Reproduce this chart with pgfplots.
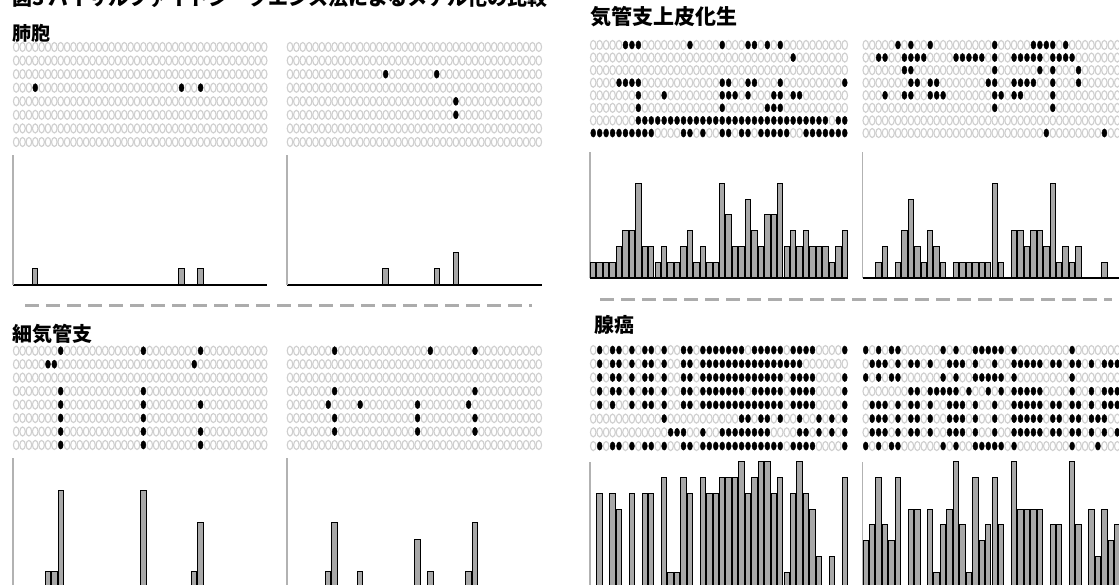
\documentclass[border=0pt]{standalone}
\usepackage{pgfplots}
\pgfplotsset{compat=1.18}
\usepackage{pgfplotstable}
\usepackage{fontspec}
\setmainfont{Noto Sans CJK JP}
\newfontfamily\jp{Noto Sans CJK JP}

\pgfplotsset{
  matstyle/.style={scatter, only marks, scatter src=explicit symbolic,
    scatter/classes={0={mark=o,draw=gray!38,line width=1.15pt,mark size=2.75pt},
                     1={mark=*,draw=black,fill=black,mark size=2.5pt}},
    mark options={yscale=1.65}},
  mataxis/.style={anchor=south west, scale only axis, hide axis,
    xmin=0.5, xmax=40.5, ymin=0.5, ymax=8.5, y dir=reverse, clip=false},
  baraxis/.style={anchor=south west, scale only axis,
    xmin=0.5, xmax=40.5, ymin=0, ymax=8,
    axis x line*=bottom, axis y line*=left, xtick=\empty, ytick=\empty,
    axis line style={-},
    x axis line style={black, line width=1.6pt, -},
    y axis line style={gray!60, line width=1.4pt, -}},
  barplot/.style={ybar, bar width=5.4pt, fill=gray!68, draw=black, line width=1pt}
}
\newcommand\drawmat[1]{%
  \pgfplotsinvokeforeach{0,...,39}{%
    \addplot[matstyle] table[x expr=##1+1, y expr=\coordindex+1, meta index=##1]{#1};
  }%
}

% ---------- methylation matrices (rows = clones, columns = CpG sites) ----------
\pgfplotstableread[header=false]{
0 0 0 0 0 0 0 0 0 0  0 0 0 0 0 0 0 0 0 0  0 0 0 0 0 0 0 0 0 0  0 0 0 0 0 0 0 0 0 0
0 0 0 0 0 0 0 0 0 0  0 0 0 0 0 0 0 0 0 0  0 0 0 0 0 0 0 0 0 0  0 0 0 0 0 0 0 0 0 0
0 0 0 0 0 0 0 0 0 0  0 0 0 0 0 0 0 0 0 0  0 0 0 0 0 0 0 0 0 0  0 0 0 0 0 0 0 0 0 0
0 0 0 1 0 0 0 0 0 0  0 0 0 0 0 0 0 0 0 0  0 0 0 0 0 0 1 0 0 1  0 0 0 0 0 0 0 0 0 0
0 0 0 0 0 0 0 0 0 0  0 0 0 0 0 0 0 0 0 0  0 0 0 0 0 0 0 0 0 0  0 0 0 0 0 0 0 0 0 0
0 0 0 0 0 0 0 0 0 0  0 0 0 0 0 0 0 0 0 0  0 0 0 0 0 0 0 0 0 0  0 0 0 0 0 0 0 0 0 0
0 0 0 0 0 0 0 0 0 0  0 0 0 0 0 0 0 0 0 0  0 0 0 0 0 0 0 0 0 0  0 0 0 0 0 0 0 0 0 0
0 0 0 0 0 0 0 0 0 0  0 0 0 0 0 0 0 0 0 0  0 0 0 0 0 0 0 0 0 0  0 0 0 0 0 0 0 0 0 0
}\matAL
\pgfplotstableread[header=false]{
0 0 0 0 0 0 0 0 0 0  0 0 0 0 0 0 0 0 0 0  0 0 0 0 0 0 0 0 0 0  0 0 0 0 0 0 0 0 0 0
0 0 0 0 0 0 0 0 0 0  0 0 0 0 0 0 0 0 0 0  0 0 0 0 0 0 0 0 0 0  0 0 0 0 0 0 0 0 0 0
0 0 0 0 0 0 0 0 0 0  0 0 0 0 0 1 0 0 0 0  0 0 0 1 0 0 0 0 0 0  0 0 0 0 0 0 0 0 0 0
0 0 0 0 0 0 0 0 0 0  0 0 0 0 0 0 0 0 0 0  0 0 0 0 0 0 0 0 0 0  0 0 0 0 0 0 0 0 0 0
0 0 0 0 0 0 0 0 0 0  0 0 0 0 0 0 0 0 0 0  0 0 0 0 0 0 1 0 0 0  0 0 0 0 0 0 0 0 0 0
0 0 0 0 0 0 0 0 0 0  0 0 0 0 0 0 0 0 0 0  0 0 0 0 0 0 1 0 0 0  0 0 0 0 0 0 0 0 0 0
0 0 0 0 0 0 0 0 0 0  0 0 0 0 0 0 0 0 0 0  0 0 0 0 0 0 0 0 0 0  0 0 0 0 0 0 0 0 0 0
0 0 0 0 0 0 0 0 0 0  0 0 0 0 0 0 0 0 0 0  0 0 0 0 0 0 0 0 0 0  0 0 0 0 0 0 0 0 0 0
}\matAR
\pgfplotstableread[header=false]{
0 0 0 0 0 0 0 1 0 0  0 0 0 0 0 0 0 0 0 0  1 0 0 0 0 0 0 0 0 1  0 0 0 0 0 0 0 0 0 0
0 0 0 0 0 1 1 0 0 0  0 0 0 0 0 0 0 0 0 0  0 0 0 0 0 0 0 0 1 0  0 0 0 0 0 0 0 0 0 0
0 0 0 0 0 0 0 0 0 0  0 0 0 0 0 0 0 0 0 0  0 0 0 0 0 0 0 0 0 0  0 0 0 0 0 0 0 0 0 0
0 0 0 0 0 0 0 1 0 0  0 0 0 0 0 0 0 0 0 0  1 0 0 0 0 0 0 0 0 0  0 0 0 0 0 0 0 0 0 0
0 0 0 0 0 0 0 1 0 0  0 0 0 0 0 0 0 0 0 0  1 0 0 0 0 0 0 0 0 1  0 0 0 0 0 0 0 0 0 0
0 0 0 0 0 0 0 1 0 0  0 0 0 0 0 0 0 0 0 0  1 0 0 0 0 0 0 0 0 0  0 0 0 0 0 0 0 0 0 0
0 0 0 0 0 0 0 1 0 0  0 0 0 0 0 0 0 0 0 0  1 0 0 0 0 0 0 0 0 1  0 0 0 0 0 0 0 0 0 0
0 0 0 0 0 0 0 1 0 0  0 0 0 0 0 0 0 0 0 0  1 0 0 0 0 0 0 0 0 1  0 0 0 0 0 0 0 0 0 0
}\matBL
\pgfplotstableread[header=false]{
0 0 0 0 0 0 0 1 0 0  0 0 0 0 0 0 0 0 0 0  0 0 1 0 0 0 0 0 0 1  0 0 0 0 0 0 0 0 0 0
0 0 0 0 0 0 0 0 0 0  0 0 0 0 0 0 0 0 0 0  0 0 0 0 0 0 0 0 0 0  0 0 0 0 0 0 0 0 0 0
0 0 0 0 0 0 0 0 0 0  0 0 0 0 0 0 0 0 0 0  0 0 0 0 0 0 0 0 0 0  0 0 0 0 0 0 0 0 0 0
0 0 0 0 0 0 0 1 0 0  0 0 0 0 0 0 0 0 0 0  0 0 0 0 0 0 0 0 0 1  0 0 0 0 0 0 0 0 0 0
0 0 0 0 0 0 1 0 0 0  0 1 0 0 0 0 0 0 0 0  1 0 0 0 0 0 0 0 1 0  0 0 0 0 0 0 0 0 0 0
0 0 0 0 0 0 0 1 0 0  0 0 0 0 0 0 0 0 0 0  1 0 0 0 0 0 0 0 0 1  0 0 0 0 0 0 0 0 0 0
0 0 0 0 0 0 0 1 0 0  0 0 0 0 0 0 0 0 0 0  1 0 0 0 0 0 0 0 0 1  0 0 0 0 0 0 0 0 0 0
0 0 0 0 0 0 0 0 0 0  0 0 0 0 0 0 0 0 0 0  0 0 0 0 0 0 0 0 0 0  0 0 0 0 0 0 0 0 0 0
}\matBR
\pgfplotstableread[header=false]{
0 0 0 0 0 1 1 1 0 0  0 0 0 0 0 1 0 0 0 0  1 0 0 0 1 1 0 1 0 1  0 0 0 0 0 0 0 0 0 0
0 0 0 0 0 0 0 0 0 0  0 0 0 0 0 0 0 0 0 0  0 0 0 0 0 0 0 0 0 0  0 1 0 0 0 0 0 0 0 0
0 0 0 0 0 0 0 0 0 0  0 0 0 0 0 0 0 0 0 0  0 0 0 0 0 0 0 0 0 0  0 0 0 0 0 0 0 0 0 0
0 0 0 0 1 1 1 1 0 0  0 0 0 0 0 0 0 0 0 0  1 1 0 0 1 1 0 0 0 1  0 0 0 0 0 0 0 0 0 1
0 0 0 0 0 0 0 1 0 0  0 1 0 0 0 0 0 0 0 0  1 1 1 0 1 0 0 0 1 1  0 1 1 0 0 0 0 0 0 0
0 0 0 0 0 0 0 1 0 0  0 0 0 0 0 0 0 0 0 0  1 0 0 0 0 0 0 1 1 1  0 0 0 0 0 0 0 0 0 0
0 0 0 0 0 0 0 1 1 1  1 1 1 1 1 1 1 1 1 1  1 1 1 1 1 1 1 1 1 1  1 1 1 1 1 1 1 0 1 1
1 1 1 1 1 1 1 1 1 1  0 0 0 0 1 1 0 1 0 0  1 1 0 1 1 0 1 1 1 1  1 0 0 1 1 1 1 1 1 1
}\matCL
\pgfplotstableread[header=false]{
0 0 0 0 0 1 0 1 0 0  1 0 0 0 0 0 0 0 0 0  1 0 0 0 0 0 1 1 1 1  0 1 0 0 0 0 0 0 0 0
0 0 1 1 0 0 1 1 1 1  0 0 0 0 1 1 1 1 1 0  1 0 0 1 1 1 1 1 0 1  1 1 1 0 0 0 0 0 0 0
0 0 0 0 0 0 1 1 0 0  0 0 0 0 0 0 0 0 0 0  1 0 0 0 0 0 0 1 0 1  0 0 0 1 0 0 0 0 0 0
0 0 0 0 0 0 0 1 1 0  1 1 0 0 0 0 0 0 0 1  1 0 0 1 1 1 1 0 0 1  0 0 0 1 0 0 0 0 0 0
0 0 0 1 0 0 1 1 0 0  1 1 1 0 0 0 0 0 0 0  1 1 0 1 1 0 0 0 0 1  0 0 0 0 0 0 0 0 0 0
0 0 0 0 0 0 0 0 0 0  0 0 0 0 0 0 0 0 0 0  1 0 0 0 0 0 0 0 0 1  0 0 0 0 0 0 0 0 0 0
0 0 0 0 0 0 0 0 0 0  0 0 0 0 0 0 0 0 0 0  0 0 0 0 0 0 0 0 0 0  0 0 0 0 0 0 0 0 0 0
0 0 0 0 0 0 0 0 0 0  0 0 0 0 0 0 0 0 0 0  0 0 0 0 0 0 0 0 1 0  0 0 0 0 0 0 0 1 0 0
}\matCR
\pgfplotstableread[header=false]{
0 1 0 1 1 0 1 0 1 1  0 1 0 0 1 1 0 1 1 1  1 1 1 1 0 1 1 1 1 1  0 1 1 1 1 0 0 0 0 1
0 1 0 1 1 0 1 0 1 1  0 1 0 0 1 1 0 1 1 1  1 1 1 1 1 1 1 1 1 1  1 1 1 0 0 0 0 0 0 0
0 1 0 1 1 0 1 0 1 1  0 1 0 0 1 1 0 1 1 1  1 1 1 1 1 1 1 1 1 1  0 1 1 1 1 0 0 0 0 1
0 1 0 1 1 0 1 0 1 1  0 1 0 0 1 1 0 1 1 1  1 1 1 1 0 1 1 1 1 1  0 1 1 1 1 0 0 0 0 1
0 1 0 1 0 0 1 0 1 1  0 1 0 0 1 1 0 1 1 1  1 1 1 1 1 1 1 1 1 1  0 1 1 1 1 0 0 0 0 1
0 0 0 0 0 0 0 0 0 0  0 1 0 0 0 0 0 0 0 0  0 0 0 1 1 0 1 1 0 1  0 0 1 0 0 1 0 1 0 1
0 0 0 0 0 0 0 0 0 0  0 0 1 1 1 0 0 1 0 0  1 1 1 1 1 1 1 1 0 0  0 0 1 1 0 1 0 1 0 1
0 1 0 1 1 0 1 0 1 1  0 1 0 0 1 1 0 1 1 1  1 1 1 1 1 1 1 1 1 1  0 1 1 1 1 0 0 0 0 1
}\matDL
\pgfplotstableread[header=false]{
1 0 1 0 1 1 0 0 0 0  0 0 1 0 1 0 0 1 1 1  1 1 0 1 0 0 0 0 0 0  0 0 1 0 0 0 0 0 0 0
0 1 1 1 0 1 0 1 1 0  1 0 0 1 1 1 0 1 0 0  1 0 0 1 1 1 1 1 0 1  1 0 1 1 0 1 0 1 1 1
1 0 1 0 1 1 0 0 0 0  0 0 1 0 1 0 0 1 1 1  1 1 0 1 0 0 0 0 0 0  0 0 1 0 0 0 0 0 0 0
0 0 0 0 0 0 0 1 1 0  1 1 1 1 1 0 1 0 0 1  0 1 0 1 1 1 1 1 0 0  0 0 1 0 0 1 0 1 1 1
0 1 1 1 0 1 0 1 1 0  1 0 0 1 1 1 0 1 0 0  1 0 0 1 1 1 1 1 0 1  1 0 1 1 0 1 0 1 1 1
0 1 1 1 0 1 0 1 1 0  1 0 0 1 1 1 0 1 0 0  1 0 0 1 1 1 1 1 0 1  1 0 1 1 0 1 1 1 0 0
0 1 1 1 0 1 0 1 1 0  1 0 0 1 1 1 0 1 0 0  1 0 0 1 1 1 1 1 0 1  1 0 1 1 0 1 0 1 0 1
1 0 1 0 1 1 0 0 0 0  0 0 1 0 1 0 0 1 1 1  1 1 0 1 0 0 0 0 0 0  0 0 1 0 0 0 1 0 0 0
}\matDR

\begin{document}
\begin{tikzpicture}[x=1pt,y=1pt]
\useasboundingbox (0,0) rectangle (1119,585);
\clip (0,0) rectangle (1119,585);

% title (cut at the top edge, as in the reference)
\node[anchor=base west, inner sep=0pt, font=\jp\bfseries\fontsize{20}{24}\selectfont] at (12,579)
  {図3\ バイサルファイトシークエンス法によるメチル化の比較};

% panel labels
\node[anchor=west, inner sep=0pt, font=\jp\bfseries\fontsize{19}{22}\selectfont] at (12,552) {肺胞};
\node[anchor=west, inner sep=0pt, font=\jp\bfseries\fontsize{20}{24}\selectfont] at (12,251) {細気管支};
\node[anchor=west, inner sep=0pt, font=\jp\bfseries\fontsize{21}{24}\selectfont] at (590,568) {気管支上皮化生};
\node[anchor=west, inner sep=0pt, font=\jp\bfseries\fontsize{20}{24}\selectfont] at (594,260) {腺癌};

% dashed separators
\draw[gray!65, line width=3pt, dash pattern=on 14pt off 7pt] (25,279) -- (532,279);
\draw[gray!65, line width=3pt, dash pattern=on 14pt off 7pt] (600,285) -- (1112,285);

% ================= 肺胞 =================
\begin{axis}[mataxis, at={(13pt,436.2pt)}, width=254.4pt, height=108.6pt]
\drawmat{\matAL}
\end{axis}
\begin{axis}[mataxis, at={(286.8pt,436.2pt)}, width=255.2pt, height=108.6pt]
\drawmat{\matAR}
\end{axis}
\begin{axis}[baraxis, at={(13pt,300pt)}, width=254.4pt, height=130pt]
\addplot[barplot] coordinates {(4,1) (27,1) (30,1)};
\end{axis}
\begin{axis}[baraxis, at={(286.8pt,300pt)}, width=255.2pt, height=130pt]
\addplot[barplot] coordinates {(16,1) (24,1) (27,2)};
\end{axis}

% ================= 細気管支 =================
\begin{axis}[mataxis, at={(13pt,133.3pt)}, width=254.4pt, height=107.7pt]
\drawmat{\matBL}
\end{axis}
\begin{axis}[mataxis, at={(286.8pt,133.3pt)}, width=255.2pt, height=107.7pt]
\drawmat{\matBR}
\end{axis}
\begin{axis}[baraxis, at={(13pt,-3pt)}, width=254.4pt, height=130pt]
\addplot[barplot] coordinates {(6,1) (7,1) (8,6) (21,6) (29,1) (30,4)};
\end{axis}
\begin{axis}[baraxis, at={(286.8pt,-3pt)}, width=255.2pt, height=130pt]
\addplot[barplot] coordinates {(7,1) (8,4) (12,1) (21,3) (23,1) (29,1) (30,4)};
\end{axis}

% ================= 気管支上皮化生 =================
\begin{axis}[mataxis, at={(590pt,445.7pt)}, width=258pt, height=100.6pt]
\drawmat{\matCL}
\end{axis}
\begin{axis}[mataxis, at={(862.5pt,445.7pt)}, width=258pt, height=100.6pt]
\drawmat{\matCR}
\end{axis}
\begin{axis}[baraxis, at={(590pt,307pt)}, width=258pt, height=126pt]
\addplot[barplot] coordinates {(1,1) (2,1) (3,1) (4,1) (5,2) (6,3) (7,3) (8,6) (9,2) (10,2)
 (11,1) (12,2) (13,1) (14,1) (15,2) (16,3) (17,1) (18,2) (19,1) (20,1)
 (21,6) (22,4) (23,2) (24,2) (25,5) (26,3) (27,2) (28,4) (29,4) (30,6)
 (31,2) (32,3) (33,2) (34,3) (35,2) (36,2) (37,2) (38,1) (39,2) (40,3)};
\end{axis}
\begin{axis}[baraxis, at={(862.5pt,307pt)}, width=258pt, height=126pt]
\addplot[barplot] coordinates {(3,1) (4,2) (6,1) (7,3) (8,5) (9,2) (10,1) (11,3) (12,2) (13,1)
 (15,1) (16,1) (17,1) (18,1) (19,1) (20,1) (21,6) (22,1) (24,3) (25,3) (26,2) (27,3)
 (28,3) (29,2) (30,6) (31,1) (32,2) (33,1) (34,2) (38,1)};
\end{axis}

% ================= 腺癌 =================
\begin{axis}[mataxis, at={(590pt,132.1pt)}, width=258pt, height=109.7pt]
\drawmat{\matDL}
\end{axis}
\begin{axis}[mataxis, at={(862.5pt,132.1pt)}, width=258pt, height=109.7pt]
\drawmat{\matDR}
\end{axis}
\begin{axis}[baraxis, at={(590pt,-3pt)}, width=258pt, height=126.3pt]
\addplot[barplot] coordinates {(2,6) (4,6) (5,5) (7,6) (9,6) (10,6) (12,7) (13,1) (14,1)
 (15,7) (16,6) (18,7) (19,6) (20,6) (21,7) (22,7) (23,7) (24,8) (25,6) (26,7) (27,8)
 (28,8) (29,6) (30,7) (31,1) (32,6) (33,8) (34,6) (35,5) (36,2) (38,2) (40,7)};
\end{axis}
\begin{axis}[baraxis, at={(862.5pt,-3pt)}, width=258pt, height=126.3pt]
\addplot[barplot] coordinates {(1,3) (2,4) (3,7) (4,4) (5,3) (6,7) (8,5) (9,5) (11,5) (12,1)
 (13,4) (14,5) (15,8) (16,4) (17,1) (18,7) (19,3) (20,4) (21,7) (22,4) (24,8) (25,5)
 (26,5) (27,5) (28,5) (30,4) (31,4) (33,8) (34,4) (36,5) (37,2) (38,5) (39,3) (40,4)};
\end{axis}
\end{tikzpicture}
\end{document}
